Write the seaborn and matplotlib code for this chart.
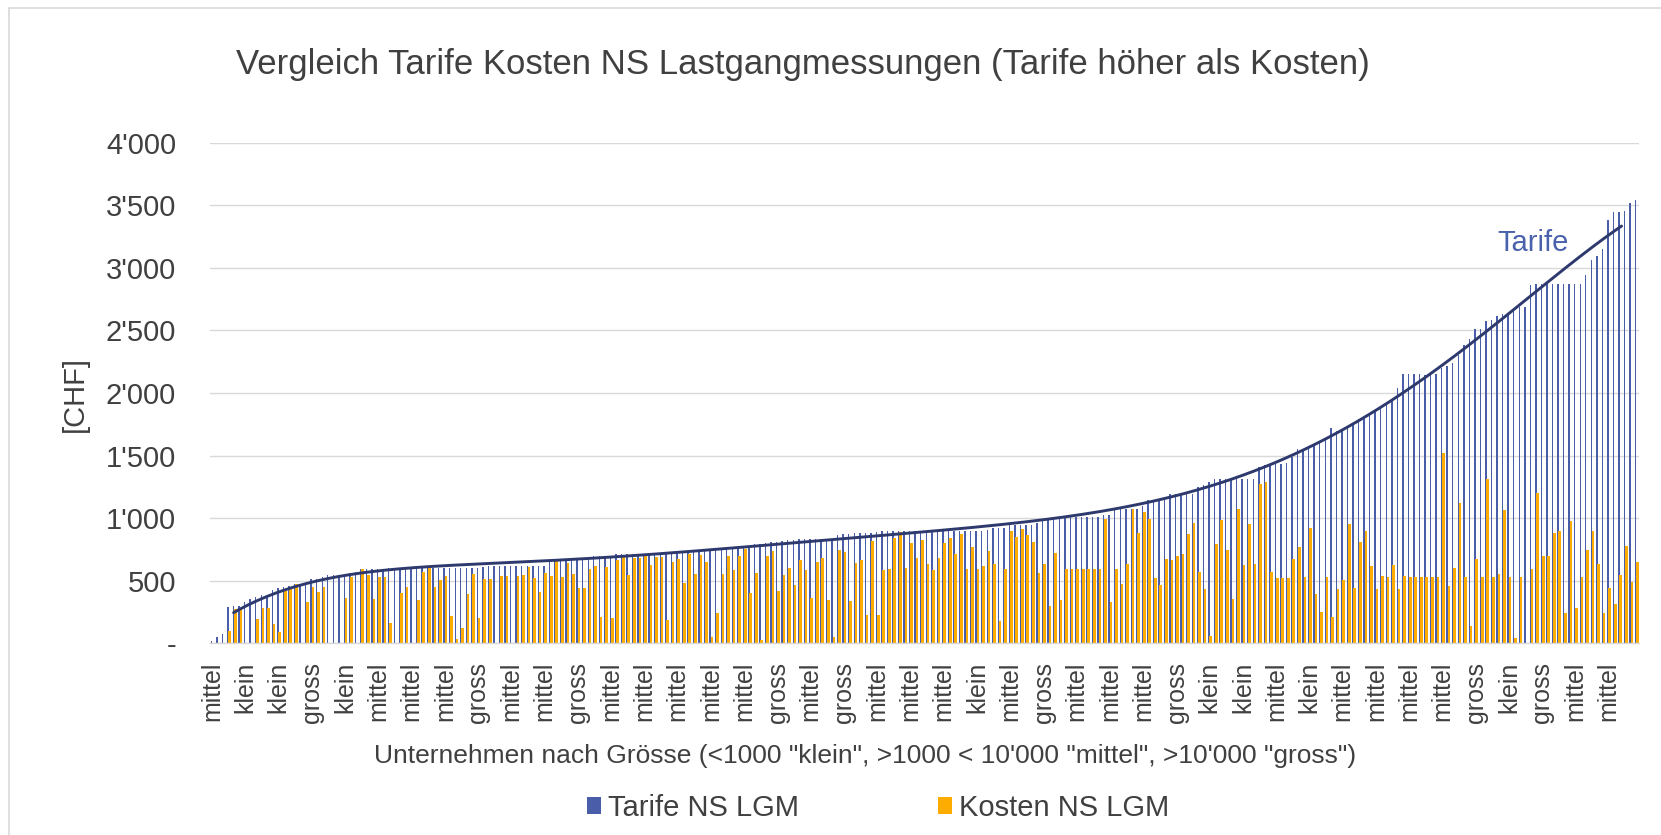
import numpy as np
import pandas as pd
import matplotlib
matplotlib.use("Agg")
import matplotlib.pyplot as plt
import seaborn as sns
from matplotlib.patches import Patch
from matplotlib.lines import Line2D
from numpy.polynomial import Polynomial

# ---------------- data ----------------
tarife = [
    20, 50, 75, 293, 295, 300, 327, 354, 372, 383,
    386, 423, 441, 452, 460, 476, 476, 476, 511, 516,
    529, 543, 543, 543, 548, 559, 569, 595, 595, 595,
    595, 595, 598, 598, 598, 598, 598, 598, 598, 600,
    600, 600, 600, 600, 600, 600, 600, 600, 603, 612,
    617, 620, 620, 620, 620, 620, 620, 620, 620, 620,
    620, 652, 655, 655, 660, 665, 670, 670, 686, 697,
    697, 697, 697, 710, 710, 710, 710, 710, 710, 710,
    710, 710, 718, 723, 731, 731, 731, 731, 745, 750,
    750, 755, 763, 771, 771, 771, 775, 779, 790, 793,
    798, 806, 811, 816, 822, 827, 830, 830, 830, 830,
    830, 830, 830, 864, 870, 872, 878, 878, 878, 883,
    891, 894, 894, 894, 894, 894, 894, 894, 896, 896,
    896, 896, 899, 899, 899, 899, 899, 899, 899, 899,
    904, 923, 923, 923, 949, 949, 949, 949, 949, 963,
    984, 984, 992, 1005, 1011, 1011, 1011, 1011, 1011, 1011,
    1011, 1024, 1024, 1075, 1075, 1075, 1075, 1075, 1101, 1144,
    1144, 1144, 1165, 1191, 1191, 1191, 1191, 1191, 1245, 1263,
    1287, 1309, 1309, 1309, 1309, 1309, 1314, 1314, 1314, 1410,
    1423, 1423, 1431, 1436, 1444, 1489, 1551, 1551, 1574, 1596,
    1617, 1636, 1721, 1700, 1715, 1734, 1763, 1790, 1795, 1840,
    1862, 1888, 1915, 1941, 2043, 2154, 2154, 2154, 2154, 2145,
    2154, 2154, 2202, 2213, 2239, 2300, 2386, 2428, 2513, 2513,
    2574, 2585, 2612, 2633, 2633, 2660, 2686, 2686, 2862, 2870,
    2870, 2870, 2870, 2870, 2870, 2870, 2870, 2870, 2941, 3059,
    3093, 3154, 3386, 3447, 3447, 3452, 3516, 3543,
]

kosten = [
    0, 0, 0, 98, 271, 282, 0, 0, 194, 285,
    285, 152, 93, 431, 439, 476, 0, 330, 447, 412,
    452, 0, 0, 0, 364, 532, 0, 593, 543, 356,
    532, 527, 160, 0, 404, 447, 0, 346, 569, 598,
    447, 505, 537, 218, 35, 122, 394, 551, 205, 511,
    513, 0, 535, 535, 0, 535, 545, 612, 521, 410,
    559, 537, 654, 532, 638, 553, 439, 439, 593, 620,
    207, 612, 199, 665, 699, 545, 678, 678, 705, 625,
    691, 691, 189, 652, 670, 479, 710, 551, 705, 652,
    53, 239, 551, 699, 585, 699, 750, 404, 564, 27,
    697, 737, 418, 545, 604, 468, 665, 585, 359, 646,
    678, 346, 48, 745, 726, 340, 644, 665, 226, 819,
    226, 585, 590, 843, 886, 604, 803, 678, 824, 633,
    585, 684, 803, 840, 710, 870, 593, 769, 593, 620,
    737, 630, 178, 593, 899, 851, 912, 864, 811, 564,
    633, 298, 718, 346, 595, 595, 595, 595, 595, 595,
    595, 997, 327, 593, 471, 630, 1072, 878, 1051, 992,
    524, 465, 673, 665, 699, 713, 870, 965, 572, 434,
    59, 793, 984, 745, 351, 1077, 622, 952, 633, 1269,
    1290, 569, 524, 524, 524, 673, 769, 527, 918, 394,
    250, 527, 210, 436, 508, 955, 439, 809, 896, 614,
    436, 537, 527, 625, 431, 537, 527, 527, 527, 527,
    527, 527, 1521, 457, 598, 1122, 527, 141, 670, 527,
    1316, 527, 551, 1069, 527, 40, 527, 0, 593, 1202,
    699, 699, 883, 896, 239, 979, 285, 527, 745, 896,
    633, 239, 439, 314, 545, 777, 492, 646,
]

x_tick_labels = [
    "mittel", "klein", "klein", "gross", "klein", "mittel", "mittel", "mittel",
    "gross", "mittel", "mittel", "gross", "mittel", "mittel", "mittel", "mittel",
    "mittel", "gross", "mittel", "gross", "mittel", "mittel", "mittel", "klein",
    "mittel", "gross", "mittel", "mittel", "mittel", "gross", "klein", "klein",
    "mittel", "klein", "mittel", "mittel", "mittel", "mittel", "gross", "klein",
    "gross", "mittel", "mittel",
]

y_ticks = [0, 500, 1000, 1500, 2000, 2500, 3000, 3500, 4000]
y_tick_labels = ["-", "500", "1'000", "1'500", "2'000", "2'500", "3'000", "3'500", "4'000"]

series_names = ["Tarife NS LGM", "Kosten NS LGM"]
title = "Vergleich Tarife Kosten NS Lastgangmessungen (Tarife höher als Kosten)"
x_title = 'Unternehmen nach Grösse (<1000 "klein", >1000 < 10\'000 "mittel", >10\'000 "gross")'
y_title = "[CHF]"
trend_label = "Tarife"

# ---------------- style ----------------
sns.set_theme(style="white")
plt.rcParams["font.family"] = ["Liberation Sans", "DejaVu Sans"]

BLUE = "#4A5DA8"
ORANGE = "#FFAC00"
TREND = "#2E3A6E"
TXT = "#404040"
GRID = "#D9D9D9"

W, H = 1661, 835
fig = plt.figure(figsize=(W / 100, H / 100), dpi=100)
fig.patch.set_facecolor("white")
ax = fig.add_axes([209.5 / W, 1 - 643.3 / H, (1639.3 - 209.5) / W, (643.3 - 142.7) / H])

n = len(tarife)
idx = np.arange(n)
df_t = pd.DataFrame({"pos": idx - 0.16, "val": tarife})
df_k = pd.DataFrame({"pos": idx + 0.16, "val": kosten})

sns.barplot(data=df_t, x="pos", y="val", native_scale=True, width=0.26,
            color=BLUE, saturation=1, errorbar=None, linewidth=0, ax=ax)
sns.barplot(data=df_k, x="pos", y="val", native_scale=True, width=0.48,
            color=ORANGE, saturation=1, errorbar=None, linewidth=0, ax=ax)

# polynomial (order 6) trend line of the tariffs, fitted on all points
poly = Polynomial.fit(idx, np.array(tarife, dtype=float), 6)
xs = np.linspace(3.84, 254.3, 400)
sns.lineplot(x=xs, y=poly(xs), color=TREND, lw=2.1, ax=ax, legend=False)
ax.text(238.3, 3195, trend_label, color="#4A62AC", fontsize=21, ha="center", va="center")

ax.set_xlim(-0.5, n - 0.5)
ax.set_ylim(0, 4000)
ax.set_xticks(np.arange(0, n, 6)[: len(x_tick_labels)])
ax.set_xticklabels(x_tick_labels, rotation=90, fontsize=18, color=TXT)
ax.set_yticks(y_ticks)
ax.set_yticklabels(y_tick_labels, fontsize=21, color=TXT)
ax.tick_params(axis="x", length=0, pad=13.5)
ax.tick_params(axis="y", length=0, pad=24)
ax.set_xlabel("")
ax.set_ylabel("")

for s in ["left", "right", "top"]:
    ax.spines[s].set_visible(False)
ax.spines["bottom"].set_color(GRID)
ax.spines["bottom"].set_linewidth(1.0)
ax.set_axisbelow(True)
ax.yaxis.grid(True, color=GRID, lw=1.0)
ax.xaxis.grid(False)

fig.text(803 / W, 1 - 64.6 / H, title, ha="center", va="center", fontsize=25, color=TXT)
fig.text(865 / W, 1 - 756 / H, x_title, ha="center", va="center", fontsize=19, color=TXT)
fig.text(75 / W, 1 - 394 / H, y_title, rotation=90, ha="center", va="center", fontsize=21, color=TXT)

handles = [Patch(facecolor=BLUE, edgecolor="none"), Patch(facecolor=ORANGE, edgecolor="none")]
fig.legend(handles, series_names, loc="center", bbox_to_anchor=(878.5 / W, 1 - 808 / H),
           ncol=2, frameon=False, fontsize=21, handlelength=0.48, handleheight=0.5,
           handletextpad=0.24, columnspacing=4.76, borderpad=0, labelcolor=TXT)

# outer chart frame (left and top edges visible)
fig.add_artist(Line2D([9.3 / W, 9.3 / W], [0, 1 - 8 / H], transform=fig.transFigure, color=GRID, lw=1.2))
fig.add_artist(Line2D([9.3 / W, 1], [1 - 8 / H, 1 - 8 / H], transform=fig.transFigure, color=GRID, lw=1.2))

fig.savefig("out.png", dpi=100, facecolor="white")
